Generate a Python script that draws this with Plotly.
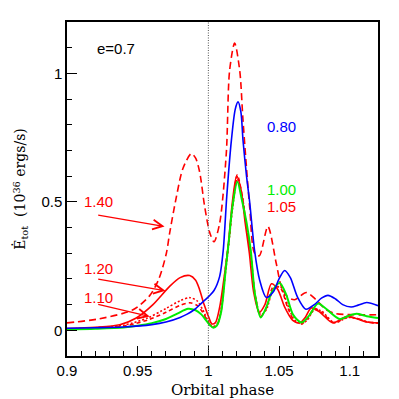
import plotly.graph_objects as go

# ---------------- data ----------------
x_080 = [0.90, 0.92, 0.94, 0.96, 0.97, 0.98, 0.985, 0.99, 0.995, 1.000, 1.004, 1.008, 1.0105, 1.013, 1.0163,
         1.019, 1.021, 1.023, 1.0245, 1.027, 1.0292, 1.0327, 1.0363, 1.041, 1.046, 1.050, 1.054, 1.058, 1.063,
         1.069, 1.075, 1.080, 1.0846, 1.090, 1.095, 1.101, 1.106, 1.112, 1.120]
y_080 = [0.008, 0.010, 0.013, 0.022, 0.032, 0.050, 0.063, 0.080, 0.105, 0.130, 0.155, 0.21, 0.31, 0.52, 0.74,
         0.86, 0.889, 0.85, 0.74, 0.60, 0.50, 0.31, 0.195, 0.128, 0.15, 0.20, 0.233, 0.205, 0.13,
         0.082, 0.10, 0.125, 0.136, 0.122, 0.10, 0.091, 0.098, 0.108, 0.096]

x_100 = [0.90, 0.92, 0.94, 0.95, 0.96, 0.97, 0.978, 0.9856, 0.991, 0.995, 0.998, 1.0015, 1.0035, 1.006, 1.009,
         1.0125, 1.0145, 1.017, 1.0205, 1.024, 1.027, 1.030, 1.033, 1.037, 1.041, 1.045, 1.0504, 1.055, 1.060,
         1.0658, 1.071, 1.0775, 1.083, 1.0929, 1.0985, 1.1047, 1.112, 1.12]
y_100 = [0.003, 0.006, 0.011, 0.018, 0.028, 0.044, 0.065, 0.084, 0.078, 0.062, 0.042, 0.018, 0.010, 0.018, 0.07,
         0.25, 0.35, 0.48, 0.578, 0.50, 0.42, 0.31, 0.14, 0.05, 0.09, 0.15, 0.184, 0.14, 0.06,
         0.03, 0.055, 0.104, 0.085, 0.044, 0.055, 0.064, 0.055, 0.048]

x_120 = [0.90, 0.92, 0.9373, 0.949, 0.9608, 0.9726, 0.980, 0.9868, 0.991, 0.9938, 0.997, 1.000, 1.0025, 1.005,
         1.008, 1.011, 1.0139, 1.017, 1.020, 1.023, 1.026, 1.029, 1.032, 1.036, 1.040, 1.0446, 1.049, 1.054,
         1.0595, 1.0646, 1.0685, 1.0728, 1.079, 1.0881, 1.0976, 1.105, 1.112, 1.12]
y_120 = [0.007, 0.012, 0.022, 0.048, 0.10, 0.171, 0.205, 0.213, 0.195, 0.158, 0.10, 0.055, 0.025, 0.03,
         0.09, 0.20, 0.32, 0.50, 0.60, 0.55, 0.42, 0.30, 0.15, 0.07, 0.10, 0.181, 0.16, 0.09,
         0.04, 0.029, 0.05, 0.087, 0.07, 0.029, 0.054, 0.045, 0.032, 0.029]

x_110 = [0.90, 0.92, 0.94, 0.957, 0.97, 0.98, 0.987, 0.992, 0.996, 1.000, 1.003, 1.006, 1.009, 1.012, 1.0145,
         1.017, 1.0205, 1.024, 1.027, 1.030, 1.033, 1.037, 1.041, 1.046, 1.051, 1.056, 1.061, 1.066, 1.070,
         1.075, 1.080, 1.089, 1.099, 1.106, 1.112, 1.12]
y_110 = [0.005, 0.010, 0.020, 0.048, 0.085, 0.115, 0.127, 0.115, 0.080, 0.035, 0.015, 0.022, 0.08, 0.22, 0.34,
         0.47, 0.59, 0.52, 0.40, 0.29, 0.14, 0.06, 0.08, 0.16, 0.17, 0.10, 0.04, 0.025, 0.04,
         0.08, 0.075, 0.03, 0.05, 0.045, 0.033, 0.028]

x_105 = x_110
y_105 = [0.004, 0.008, 0.016, 0.040, 0.070, 0.097, 0.107, 0.097, 0.070, 0.030, 0.012, 0.020, 0.075, 0.24, 0.35,
         0.48, 0.605, 0.52, 0.40, 0.30, 0.14, 0.055, 0.085, 0.17, 0.165, 0.09, 0.035, 0.025, 0.045,
         0.085, 0.07, 0.03, 0.052, 0.045, 0.033, 0.028]

x_140 = [0.90, 0.923, 0.9467, 0.9585, 0.965, 0.9703, 0.9726, 0.9774, 0.982, 0.988, 0.991, 0.9938, 0.9974, 1.001,
         1.0040, 1.008, 1.0127, 1.015, 1.0186, 1.0222, 1.0245, 1.0292, 1.0327, 1.036, 1.0421, 1.048, 1.0516,
         1.056, 1.061, 1.0693, 1.076, 1.0834, 1.09, 1.10, 1.11, 1.12]
y_140 = [0.029, 0.045, 0.080, 0.135, 0.20, 0.30, 0.378, 0.52, 0.63, 0.688, 0.67, 0.617, 0.481, 0.38,
         0.345, 0.417, 0.69, 1.01, 1.118, 1.01, 0.818, 0.481, 0.30, 0.29, 0.404, 0.261, 0.171,
         0.13, 0.119, 0.147, 0.12, 0.08, 0.065, 0.061, 0.06, 0.061]

vline_x = 1.0
ecc_label = "e=0.7"

# ---------------- figure ----------------
RED = "#ff0000"
BLUE = "#0000ff"
GREEN = "#00ee00"

fig = go.Figure()

def add(x, y, color, dash, width=1.6):
    fig.add_trace(go.Scatter(x=x, y=y, mode="lines",
                             line=dict(color=color, width=width, dash=dash, shape="spline", smoothing=0.8),
                             showlegend=False, hoverinfo="skip"))

add(x_140, y_140, RED, "7px,4px")
add(x_120, y_120, RED, "solid")
add(x_110, y_110, RED, "2px,2px")
add(x_105, y_105, RED, "4px,3px")
add(x_100, y_100, GREEN, "solid", 2)
add(x_080, y_080, BLUE, "solid", 1.6)

fig.add_shape(type="line", xref="x", yref="paper", x0=vline_x, x1=vline_x, y0=0, y1=1,
              line=dict(color="#555555", width=1, dash="1px,1.5px"))

label_font = dict(family="Liberation Sans, Arial, sans-serif", size=15)
texts = [
    (ecc_label, 0.935, 1.095, "black"),
    ("0.80", 1.0515, 0.795, BLUE),
    ("1.00", 1.0515, 0.55, GREEN),
    ("1.05", 1.0515, 0.48, RED),
    ("1.40", 0.922, 0.50, RED),
    ("1.20", 0.922, 0.24, RED),
    ("1.10", 0.922, 0.128, RED),
]
for t, x, y, c in texts:
    fig.add_annotation(x=x, y=y, text=t, showarrow=False, xref="x", yref="y",
                       font=dict(label_font, color=c))

arrows = [
    ((0.921, 0.449), (0.969, 0.404)),
    ((0.921, 0.200), (0.9696, 0.154)),
    ((0.921, 0.102), (0.9585, 0.054)),
]
for (tx, ty), (hx, hy) in arrows:
    fig.add_annotation(x=hx, y=hy, ax=tx, ay=ty, xref="x", yref="y", axref="x", ayref="y",
                       text="", showarrow=True, arrowhead=5, arrowsize=1.6, arrowwidth=1.2,
                       arrowcolor=RED)

tick_font = dict(family="Liberation Sans, Arial, sans-serif", size=15, color="black")
title_font = dict(family="DejaVu Serif, serif", size=14, color="black")

fig.update_xaxes(range=[0.9, 1.12], tick0=0.9, dtick=0.05, ticks="inside", ticklen=10, tickwidth=1,
                 tickcolor="black", minor=dict(dtick=0.01, ticks="inside", ticklen=5, tickcolor="black"),
                 showline=True, linecolor="black", linewidth=1.5, mirror=True, showgrid=False,
                 zeroline=False, tickfont=tick_font,
                 title=dict(text="Orbital phase", font=dict(title_font, size=15), standoff=13))
fig.update_yaxes(range=[-0.1, 1.2], tick0=0, dtick=0.5, ticks="inside", ticklen=10, tickwidth=1,
                 tickcolor="black", minor=dict(dtick=0.1, ticks="inside", ticklen=5, tickcolor="black"),
                 showline=True, linecolor="black", linewidth=1.5, mirror=True, showgrid=False,
                 zeroline=False, tickfont=tick_font,
                 title=dict(text="Ė<sub>tot</sub>  (10<sup>36</sup> ergs/s)", font=title_font, standoff=12))

fig.update_layout(width=383, height=391, margin=dict(l=59, r=13, t=14, b=43, autoexpand=False),
                  plot_bgcolor="white", paper_bgcolor="white")

fig.write_html("out.html")
